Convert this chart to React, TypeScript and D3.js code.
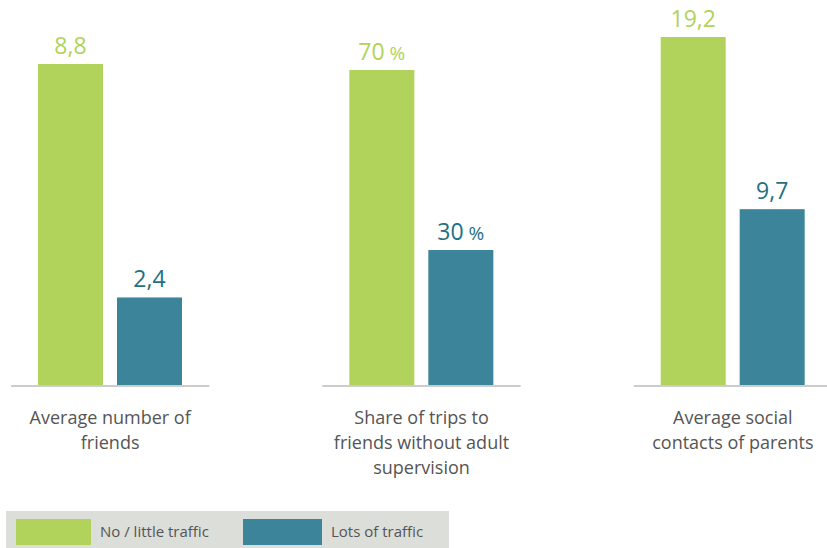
import * as d3 from 'd3'

const categories = [
  ['Average number of', 'friends'],
  ['Share of trips to', 'friends without adult', 'supervision'],
  ['Average social', 'contacts of parents'],
]
const seriesNames = ['No / little traffic', 'Lots of traffic']
const noTraffic = [8.8, 70, 19.2]
const lotsTraffic = [2.4, 30, 9.7]
const valueLabels = [
  ['8,8', '2,4'],
  ['70', '30'],
  ['19,2', '9,7'],
]
const valueSuffix = ['', ' %', '']

const W = 827
const H = 548
const GREEN = '#b1d25b'
const TEAL = '#3c8499'
const TEAL_TEXT = '#246f82'
const FONT = '"Open Sans", "Noto Sans", sans-serif'

// each panel has its own scale; tops where the larger bar ends
const baseline = 385
const panelTop = [64, 70, 37]

export default function App() {
  const panels = d3.scaleBand<number>()
    .domain(d3.range(categories.length))
    .range([11, 832])
    .paddingInner(0.363)

  const inner = d3.scaleBand<number>()
    .domain([0, 1])
    .range([27, 171])
    .paddingInner(0.177)

  const colors = [GREEN, TEAL]
  const textColors = [GREEN, TEAL_TEXT]

  return (
    <svg width={W} height={H} style={{ position: 'absolute', left: 0, top: 0, fontFamily: FONT }}>
      <rect width={W} height={H} fill="#fff" />
      {categories.map((lines, i) => {
        const vals = [noTraffic[i], lotsTraffic[i]]
        const y = d3.scaleLinear().domain([0, d3.max(vals) as number]).range([baseline, panelTop[i]])
        const x0 = panels(i) as number
        const bw = panels.bandwidth()
        return (
          <g key={i} transform={`translate(${x0},0)`}>
            {vals.map((v, j) => {
              const bx = inner(j) as number
              return (
                <g key={j}>
                  <rect x={bx} y={y(v)} width={inner.bandwidth()} height={baseline - y(v)} fill={colors[j]} />
                  <text x={bx + inner.bandwidth() / 2} y={y(v) - 10} textAnchor="middle"
                    fontSize={23} fill={textColors[j]}>
                    {valueLabels[i][j]}
                    {valueSuffix[i] && <tspan fontSize={19}>{valueSuffix[i]}</tspan>}
                  </text>
                </g>
              )
            })}
            <line x1={0} x2={bw} y1={baseline + 1} y2={baseline + 1} stroke="#cccccc" strokeWidth={2} />
            <text textAnchor="middle" fontSize={18} fill="#555">
              {lines.map((l, k) => (
                <tspan key={k} x={bw / 2} y={424 + k * 25}>{l}</tspan>
              ))}
            </text>
          </g>
        )
      })}
      <g>
        <rect x={6} y={511} width={443} height={40} fill="#dcdeda" />
        {seriesNames.map((s, j) => {
          const lx = [16, 243][j]
          const sw = [75, 79][j]
          return (
            <g key={s}>
              <rect x={lx} y={519} width={sw} height={26} fill={colors[j]} />
              <text x={lx + sw + 9} y={537} fontSize={15} fill="#555">{s}</text>
            </g>
          )
        })}
      </g>
    </svg>
  )
}
